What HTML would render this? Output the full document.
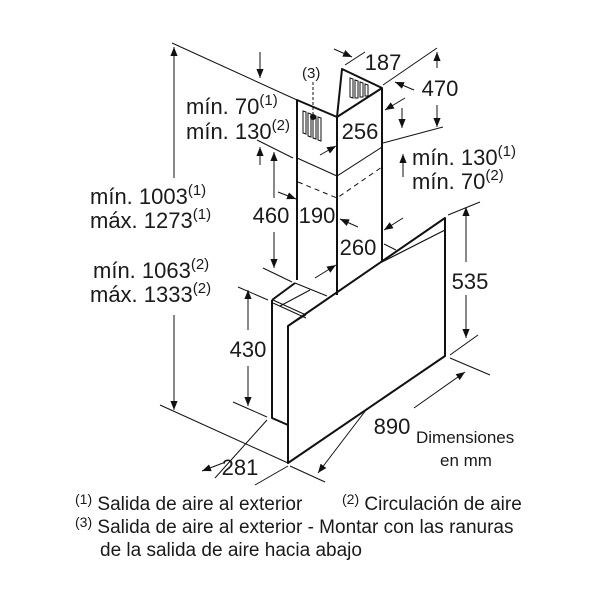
<!DOCTYPE html>
<html><head><meta charset="utf-8"><style>
html,body{margin:0;padding:0;background:#fff;}
svg{display:block}
text{font-family:"Liberation Sans",Arial,sans-serif;fill:#1a1a1a}
</style></head><body>
<svg width="600" height="600" viewBox="0 0 600 600" xmlns="http://www.w3.org/2000/svg">
<defs>
<marker id="a" viewBox="0 0 10 10" refX="10" refY="5" markerWidth="9" markerHeight="9" orient="auto-start-reverse" markerUnits="userSpaceOnUse"><path d="M0,1 L10,5 L0,9 Z" fill="#111"/></marker>
</defs>
<g stroke="#111" fill="none" stroke-width="1">
<line x1="172" y1="43" x2="297" y2="100"/>
<line x1="160" y1="405" x2="288" y2="463"/>
<line x1="257" y1="140" x2="293" y2="158"/>
<line x1="263" y1="268" x2="292" y2="282"/>
<line x1="238" y1="287" x2="268" y2="300"/>
<line x1="233" y1="402" x2="267" y2="417"/>
<line x1="383" y1="85" x2="437" y2="48"/>
<line x1="383" y1="143" x2="443" y2="127"/>
<line x1="345" y1="65" x2="365" y2="52"/>
<line x1="448" y1="215" x2="480" y2="202"/>
<line x1="450" y1="355" x2="478" y2="335"/>
<line x1="450" y1="358" x2="490" y2="375"/>
<line x1="290" y1="466" x2="325" y2="482"/>
<line x1="288" y1="466" x2="255" y2="485"/>
<line x1="267" y1="420" x2="215" y2="478"/>
<line x1="174" y1="47" x2="174" y2="178" marker-start="url(#a)"/>
<line x1="174" y1="315" x2="174" y2="410" marker-end="url(#a)"/>
<line x1="274" y1="152" x2="274" y2="198" marker-start="url(#a)"/>
<line x1="274" y1="232" x2="274" y2="268" marker-end="url(#a)"/>
<line x1="248" y1="290" x2="248" y2="330" marker-start="url(#a)"/>
<line x1="248" y1="366" x2="248" y2="406" marker-end="url(#a)"/>
<line x1="466" y1="207" x2="466" y2="262" marker-start="url(#a)"/>
<line x1="466" y1="295" x2="466" y2="338" marker-end="url(#a)"/>
<line x1="437" y1="52" x2="437" y2="68" marker-start="url(#a)"/>
<line x1="437" y1="105" x2="437" y2="127" marker-end="url(#a)"/>
<line x1="366" y1="410" x2="318" y2="473" marker-end="url(#a)" />
<line x1="414" y1="408" x2="465" y2="372" marker-end="url(#a)"/>
<line x1="223" y1="463" x2="202" y2="471" marker-end="url(#a)"/>
<line x1="260" y1="52" x2="260" y2="78" marker-end="url(#a)"/>
<line x1="260" y1="165" x2="260" y2="147" marker-end="url(#a)"/>
<line x1="402" y1="108" x2="402" y2="128" marker-end="url(#a)"/>
<line x1="403" y1="177" x2="403" y2="154" marker-end="url(#a)"/>
<line x1="334" y1="49" x2="352" y2="57" marker-end="url(#a)"/>
<line x1="414" y1="90" x2="395" y2="82" marker-end="url(#a)"/>
<line x1="405" y1="98" x2="385" y2="110" marker-end="url(#a)"/>
<line x1="320" y1="155" x2="336" y2="146" marker-end="url(#a)"/>
<line x1="278" y1="192" x2="296" y2="199" marker-end="url(#a)"/>
<line x1="358" y1="227" x2="340" y2="219" marker-end="url(#a)"/>
<line x1="403" y1="218" x2="384" y2="230" marker-end="url(#a)"/>
<line x1="315" y1="278" x2="336" y2="265" marker-end="url(#a)"/>
</g>
<g stroke="#111" fill="none" stroke-width="2" stroke-linejoin="round">
<polyline points="297,280 297,100 337,117 382,88"/>
<polyline points="337,117 342,69 382,88 382,262"/>
<line x1="337" y1="117" x2="337" y2="295"/>
<polyline points="272,300 272,418 288,425"/>
<polygon points="288,326 445,218 445,356 288,463"/>
<polyline points="272,300 295,283"/>
<line x1="382" y1="262" x2="445" y2="230" stroke-width="1.2"/>
</g>
<g stroke="#111" fill="none" stroke-width="1">
<polyline points="297,158 337,176 382,147"/>
<polyline points="298,182 337,198 382,167" stroke-dasharray="5,4"/>
<line x1="273" y1="300" x2="306" y2="315"/>
<line x1="273" y1="303" x2="306" y2="318"/>
<line x1="288" y1="326" x2="306" y2="315"/>
<line x1="295" y1="283" x2="327" y2="296"/>
<line x1="280" y1="306" x2="310" y2="290"/>
<line x1="384" y1="244" x2="396" y2="250"/>
<polygon points="303,111 306,112 306,134 303,133"/>
<polygon points="308,113 311,114 311,137 308,136"/>
<polygon points="313,115 316,116 316,139 313,138"/>
<polygon points="318,117 321,118 321,141 318,140"/>
<polygon points="350,78 353,79 353,98 350,97"/>
<polygon points="355,80 358,81 358,98 355,98"/>
<polygon points="360,82 363,83 363,97 360,97"/>
<polygon points="365,84 368,85 368,96 365,96"/>
<line x1="313" y1="82" x2="313" y2="115" stroke-dasharray="3,2"/>
</g>
<circle cx="313" cy="117" r="3" fill="#111"/>
<g font-size="22">
<text x="383" y="70" text-anchor="middle">187</text>
<text x="440" y="96" text-anchor="middle">470</text>
<text x="360" y="139" text-anchor="middle">256</text>
<text x="317" y="223" text-anchor="middle">190</text>
<text x="358" y="255" text-anchor="middle">260</text>
<text x="271" y="223" text-anchor="middle">460</text>
<text x="248" y="357" text-anchor="middle">430</text>
<text x="470" y="289" text-anchor="middle">535</text>
<text x="392" y="434" text-anchor="middle">890</text>
<text x="240" y="475" text-anchor="middle">281</text>
<text x="186" y="114">mín. 70<tspan font-size="15" dy="-9">(1)</tspan></text>
<text x="186" y="139" dy="0">mín. 130<tspan font-size="15" dy="-9">(2)</tspan></text>
<text x="412" y="165">mín. 130<tspan font-size="15" dy="-9">(1)</tspan></text>
<text x="412" y="189">mín. 70<tspan font-size="15" dy="-9">(2)</tspan></text>
<text x="90" y="204">mín. 1003<tspan font-size="15" dy="-9">(1)</tspan></text>
<text x="90" y="228">máx. 1273<tspan font-size="15" dy="-9">(1)</tspan></text>
<text x="93" y="278">mín. 1063<tspan font-size="15" dy="-9">(2)</tspan></text>
<text x="90" y="302">máx. 1333<tspan font-size="15" dy="-9">(2)</tspan></text>
</g>
<text x="302" y="78" font-size="15">(3)</text>
<g font-size="17">
<text x="416" y="443">Dimensiones</text>
<text x="440" y="466">en mm</text>
</g>
<g font-size="19">
<text x="75" y="510"><tspan font-size="14" dy="-6">(1)</tspan><tspan dy="6"> Salida de aire al exterior</tspan></text>
<text x="342" y="510"><tspan font-size="14" dy="-6">(2)</tspan><tspan dy="6"> Circulación de aire</tspan></text>
<text x="75" y="533"><tspan font-size="14" dy="-6">(3)</tspan><tspan dy="6"> Salida de aire al exterior - Montar con las ranuras</tspan></text>
<text x="100" y="556">de la salida de aire hacia abajo</text>
</g>
</svg>
</body></html>
